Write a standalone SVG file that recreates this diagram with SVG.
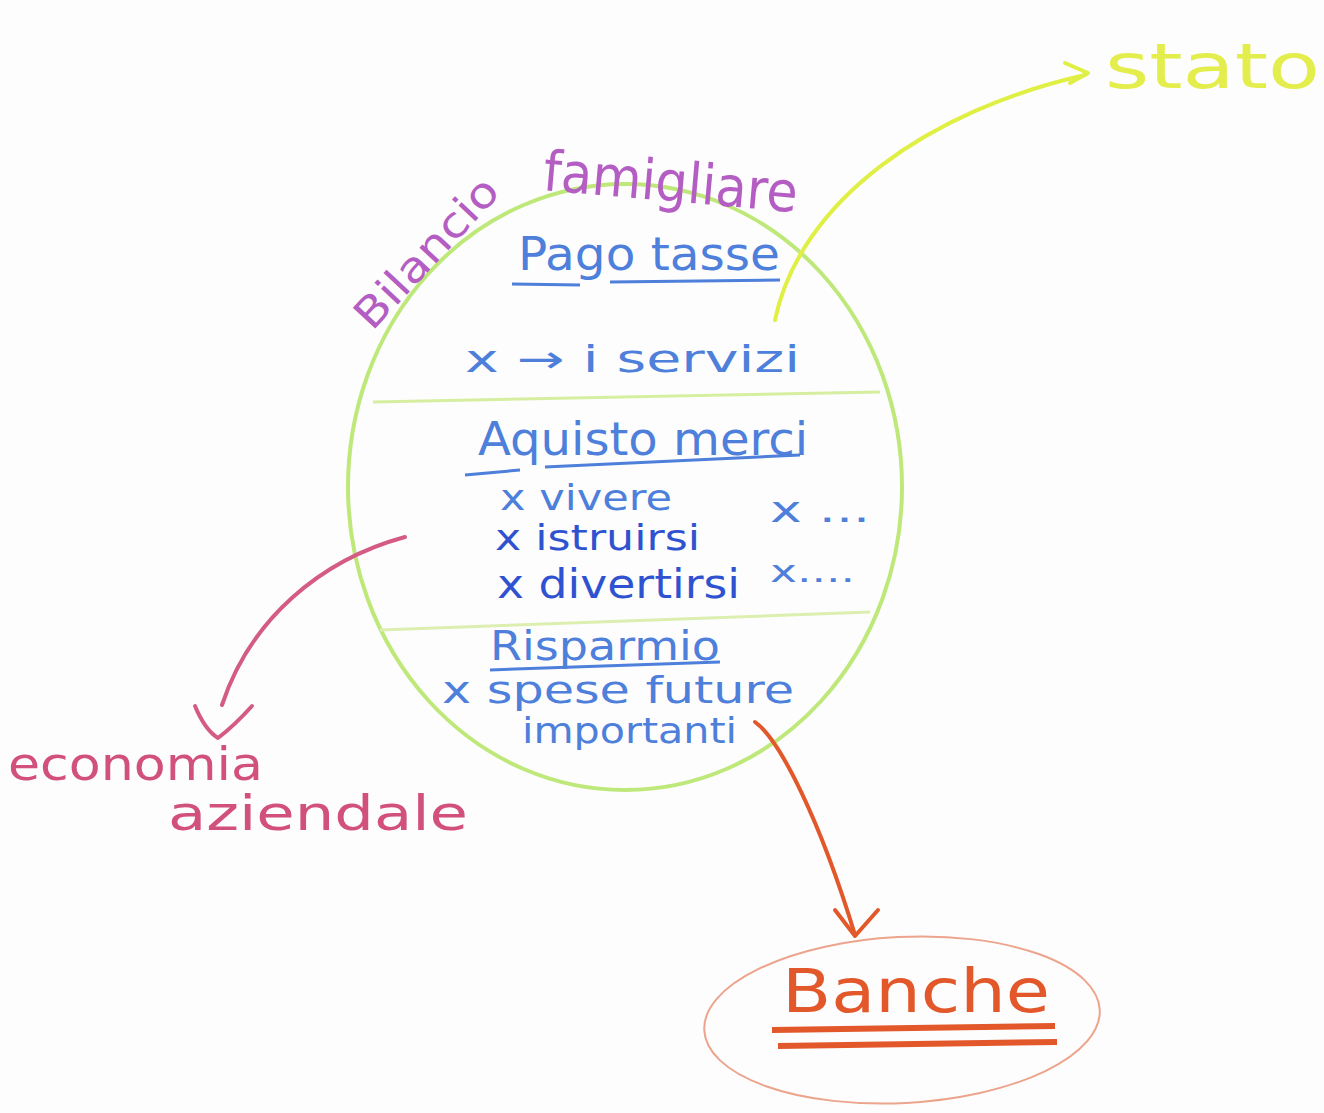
<svg xmlns="http://www.w3.org/2000/svg" width="1324" height="1113" viewBox="0 0 1324 1113">
<style>
text{font-family:"DejaVu Sans","Liberation Sans",sans-serif}
.blue{fill:#4d7fdb}
.dblue{fill:#2f52d0}
.purple{fill:#b45ec4}
.pink{fill:#d2507c}
.orange{fill:#e2582a}
.yellow{fill:#e3ee4c}
.conn{fill:none;stroke-width:4;stroke-linecap:round;stroke-linejoin:round}
</style>
<rect width="1324" height="1113" fill="#fdfdfd"/>
<g id="bilancio">
  <ellipse cx="625" cy="487" rx="277" ry="303" fill="none" stroke="#bfe87a" stroke-width="4"/>
  <line x1="373" y1="402" x2="880" y2="392" stroke="#d6eea0" stroke-width="3"/>
  <line x1="380" y1="630" x2="870" y2="612" stroke="#dcefb0" stroke-width="3"/>
  <text class="purple" font-size="42" transform="translate(372,332) rotate(-47)" textLength="190" lengthAdjust="spacingAndGlyphs">Bilancio</text>
  <text class="purple" font-size="56" transform="translate(542,190) rotate(5)" textLength="255" lengthAdjust="spacingAndGlyphs">famigliare</text>
  <text class="blue" font-size="46" x="518" y="270" textLength="262" lengthAdjust="spacingAndGlyphs">Pago tasse</text>
  <path d="M512 284 L580 285 M610 282 L780 280" stroke="#4d7fdb" stroke-width="3" fill="none"/>
  <text class="blue" font-size="38" x="465" y="372" textLength="335" lengthAdjust="spacingAndGlyphs">x → i servizi</text>
  <text class="blue" font-size="46" x="478" y="455" textLength="330" lengthAdjust="spacingAndGlyphs">Aquisto merci</text>
  <path d="M465 475 L520 470 M545 467 L800 455" stroke="#4d7fdb" stroke-width="3" fill="none"/>
  <text class="blue" font-size="36" x="500" y="510" textLength="172" lengthAdjust="spacingAndGlyphs">x vivere</text>
  <text class="dblue" font-size="36" x="495" y="550" textLength="205" lengthAdjust="spacingAndGlyphs">x istruirsi</text>
  <text class="dblue" font-size="40" x="497" y="598" textLength="243" lengthAdjust="spacingAndGlyphs">x divertirsi</text>
  <text class="blue" font-size="36" x="770" y="522" textLength="100" lengthAdjust="spacingAndGlyphs">x ...</text>
  <text class="blue" font-size="30" x="770" y="582" textLength="85" lengthAdjust="spacingAndGlyphs">x....</text>
  <text class="blue" font-size="40" x="490" y="660" textLength="230" lengthAdjust="spacingAndGlyphs">Risparmio</text>
  <path d="M490 670 L720 662" stroke="#4d7fdb" stroke-width="3" fill="none"/>
  <text class="blue" font-size="38" x="442" y="703" textLength="352" lengthAdjust="spacingAndGlyphs">x spese future</text>
  <text class="blue" font-size="36" x="522" y="743" textLength="215" lengthAdjust="spacingAndGlyphs">importanti</text>
</g>
<g id="stato">
  <text class="yellow" font-size="62" x="1105" y="88" textLength="215" lengthAdjust="spacingAndGlyphs">stato</text>
</g>
<g id="economia">
  <text class="pink" font-size="46" x="8" y="780" textLength="255" lengthAdjust="spacingAndGlyphs">economia</text>
  <text class="pink" font-size="48" x="168" y="830" textLength="300" lengthAdjust="spacingAndGlyphs">aziendale</text>
</g>
<g id="banche">
  <ellipse cx="902" cy="1020" rx="198" ry="83" fill="none" stroke="#eca48c" stroke-width="2" transform="rotate(-3 902 1020)"/>
  <text class="orange" font-size="60" x="782" y="1012" textLength="268" lengthAdjust="spacingAndGlyphs">Banche</text>
  <path d="M772 1030 L1055 1026 M778 1046 L1057 1042" stroke="#e2582a" stroke-width="6" fill="none"/>
</g>
<g id="connectors">
  <path class="conn" stroke="#e0ef44" d="M775 320 C800 200 930 110 1085 75"/>
  <path class="conn" stroke="#e0ef44" d="M1065 63 L1088 73 L1070 83"/>
  <path class="conn" stroke="#d45c84" d="M405 537 C320 560 250 620 222 705"/>
  <path class="conn" stroke="#d45c84" d="M195 706 Q205 730 218 738 Q235 725 252 706"/>
  <path class="conn" stroke="#e2582a" d="M755 722 C780 740 820 820 855 935"/>
  <path class="conn" stroke="#e2582a" d="M835 910 L855 936 L878 910"/>
</g>
</svg>
